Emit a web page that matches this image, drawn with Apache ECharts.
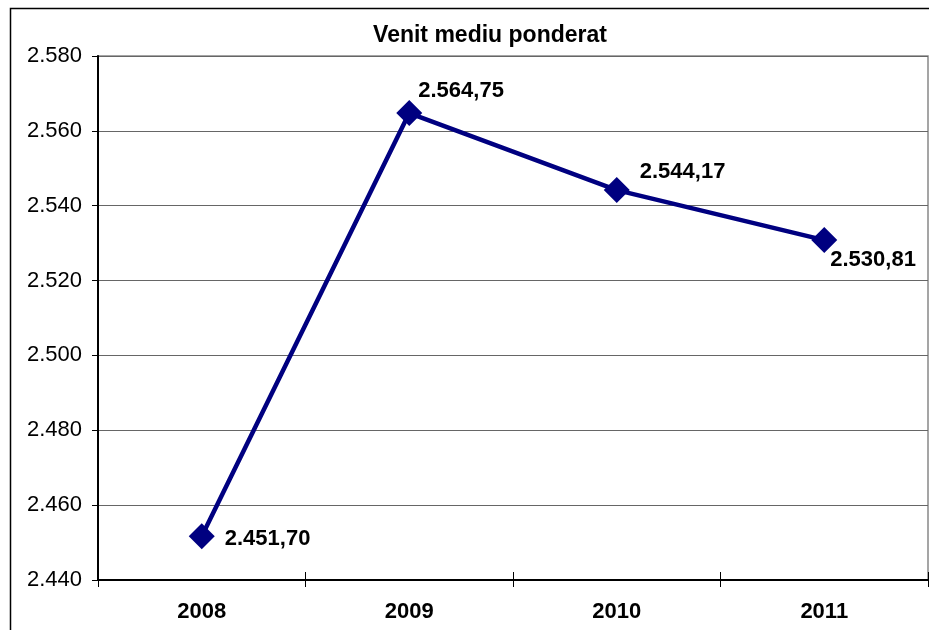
<!DOCTYPE html>
<html>
<head>
<meta charset="utf-8">
<script src="https://cdn.jsdelivr.net/npm/echarts@6/dist/echarts.min.js"></script>
<style>
  html, body { margin: 0; padding: 0; background: #fff; }
  #chart { width: 929px; height: 630px; }
</style>
</head>
<body>
<div id="chart"></div>
<script>
// Weighted average income by year
const years = ['2008', '2009', '2010', '2011'];
const venitMediu = [2451.70, 2564.75, 2544.17, 2530.81];
const yTicks = { min: 2440, max: 2580, step: 20 };

// Per-point label offsets (px) relative to the marker's right edge
const labelOffsets = [[10, 3], [-4, -22], [10, -18], [-7, 20]];

const FONT = '"Liberation Sans", Arial, sans-serif';

// Romanian number style: "." for thousands, "," for decimals
function fmtRo(v, decimals) {
  const parts = v.toFixed(decimals).split('.');
  parts[0] = parts[0].replace(/\B(?=(\d{3})+(?!\d))/g, '.');
  return parts.join(',');
}

const chart = echarts.init(document.getElementById('chart'), null, { renderer: 'canvas' });

chart.setOption({
  backgroundColor: '#fff',
  animation: false,
  title: {
    text: 'Venit mediu ponderat',
    left: 485,
    top: 19,
    textAlign: 'center',
    textStyle: { fontFamily: FONT, fontSize: 23, fontWeight: 'bold', color: '#000' }
  },
  graphic: [{
    type: 'rect',
    shape: { x: 10.5, y: 8.5, width: 960, height: 660 },
    style: { fill: 'none', stroke: '#000', lineWidth: 1.5 },
    silent: true,
    z: -1
  }],
  grid: {
    left: 98, top: 56, right: 1, bottom: 50,
    show: true, borderColor: '#888', borderWidth: 1.5
  },
  xAxis: [{
    type: 'category',
    data: years,
    boundaryGap: true,
    axisLine: { lineStyle: { color: '#000', width: 2 } },
    axisTick: { show: true, length: 7, lineStyle: { color: '#000', width: 1 } },
    axisLabel: { margin: 21, fontFamily: FONT, fontSize: 22, fontWeight: 'bold', color: '#000' },
    splitLine: { show: false }
  }, {
    type: 'category',
    data: years,
    position: 'bottom',
    boundaryGap: true,
    axisLine: { show: false },
    axisTick: { show: true, inside: true, length: 8, lineStyle: { color: '#000', width: 1 } },
    axisLabel: { show: false },
    splitLine: { show: false }
  }],
  yAxis: {
    type: 'value',
    min: yTicks.min,
    max: yTicks.max,
    interval: yTicks.step,
    axisLine: { show: true, lineStyle: { color: '#000', width: 2 } },
    axisTick: { show: true, length: 6, lineStyle: { color: '#000', width: 1 } },
    axisLabel: {
      margin: 16,
      fontFamily: FONT, fontSize: 22, color: '#000',
      formatter: v => fmtRo(v, 0)
    },
    splitLine: { show: true, lineStyle: { color: '#666', width: 1 } }
  },
  series: [{
    type: 'line',
    data: venitMediu.map((v, i) => ({
      value: v,
      label: { offset: labelOffsets[i] }
    })),
    symbol: 'diamond',
    symbolSize: 26,
    showAllSymbol: true,
    itemStyle: { color: '#000080' },
    lineStyle: { color: '#000080', width: 4.5 },
    label: {
      show: true,
      position: 'right',
      distance: 0,
      align: 'left',
      verticalAlign: 'middle',
      fontFamily: FONT, fontSize: 22, fontWeight: 'bold', color: '#000',
      formatter: p => fmtRo(p.value, 2)
    },
    z: 3
  }]
});
</script>
</body>
</html>
